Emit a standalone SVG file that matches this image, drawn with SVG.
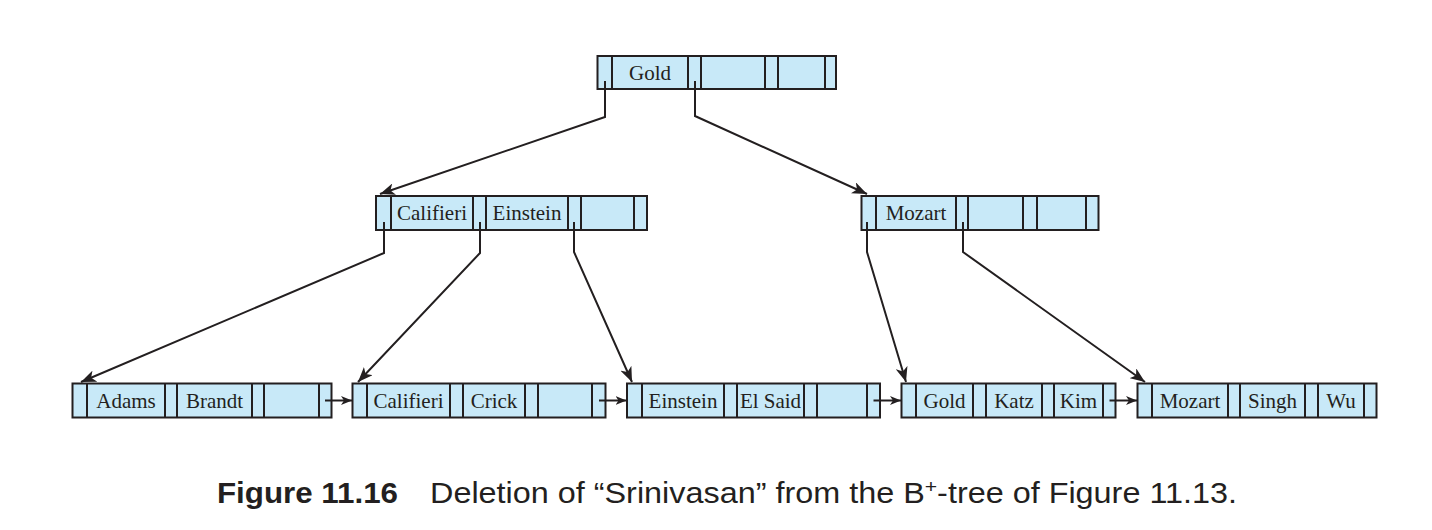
<svg xmlns="http://www.w3.org/2000/svg" width="1432" height="530" viewBox="0 0 1432 530">
<style>
.cell{fill:#c8e9f8;stroke:#231f20;stroke-width:2}
.div{stroke:#231f20;stroke-width:2}
.key{font-family:"Liberation Serif","Times New Roman",serif;font-size:21px;fill:#231f20;text-anchor:middle}
.con{fill:none;stroke:#231f20;stroke-width:2}
.cap{font-family:"Liberation Sans",Arial,sans-serif;font-size:29px;fill:#231f20}
</style>
<defs>
<marker id="ah" markerUnits="userSpaceOnUse" markerWidth="16" markerHeight="12" refX="15" refY="6" orient="auto">
<path d="M0,0 L15,6 L0,12 L4,6 z" fill="#231f20"/>
</marker>
<marker id="ahs" markerUnits="userSpaceOnUse" markerWidth="12" markerHeight="10" refX="11" refY="4.5" orient="auto">
<path d="M0,0 L11,4.5 L0,9 L3,4.5 z" fill="#231f20"/>
</marker>
</defs>
<rect width="1432" height="530" fill="#ffffff"/>

<g id="root">
<rect class="cell" x="597.5" y="56" width="238.5" height="33"/>
<path class="div" d="M612,56V89M688,56V89M701,56V89M765,56V89M778,56V89M825,56V89"/>
<text class="key" x="650" y="79.5">Gold</text>
</g>

<g id="inner-left">
<rect class="cell" x="376" y="196" width="271" height="34"/>
<path class="div" d="M391,196V230M473,196V230M486,196V230M568,196V230M581,196V230M634,196V230"/>
<text class="key" x="432" y="220">Califieri</text>
<text class="key" x="527" y="220">Einstein</text>
</g>

<g id="inner-right">
<rect class="cell" x="861.5" y="196" width="237" height="34"/>
<path class="div" d="M876,196V230M956,196V230M968,196V230M1023,196V230M1037,196V230M1086,196V230"/>
<text class="key" x="916" y="220">Mozart</text>
</g>

<g id="leaf-1">
<rect class="cell" x="72.5" y="383.5" width="259" height="34"/>
<path class="div" d="M87,383.5V417.5M165,383.5V417.5M177,383.5V417.5M252,383.5V417.5M264,383.5V417.5M319,383.5V417.5"/>
<text class="key" x="126" y="408">Adams</text>
<text class="key" x="214.5" y="408">Brandt</text>
</g>

<g id="leaf-2">
<rect class="cell" x="352.5" y="383.5" width="253" height="34"/>
<path class="div" d="M367,383.5V417.5M450,383.5V417.5M463,383.5V417.5M525,383.5V417.5M538,383.5V417.5M592,383.5V417.5"/>
<text class="key" x="408.5" y="408">Califieri</text>
<text class="key" x="494" y="408">Crick</text>
</g>

<g id="leaf-3">
<rect class="cell" x="627" y="383.5" width="253" height="34"/>
<path class="div" d="M642,383.5V417.5M724,383.5V417.5M737,383.5V417.5M804,383.5V417.5M817,383.5V417.5M867,383.5V417.5"/>
<text class="key" x="683" y="408">Einstein</text>
<text class="key" x="770.5" y="408">El Said</text>
</g>

<g id="leaf-4">
<rect class="cell" x="901.5" y="383.5" width="214" height="34"/>
<path class="div" d="M916,383.5V417.5M973,383.5V417.5M986,383.5V417.5M1042,383.5V417.5M1054,383.5V417.5M1103,383.5V417.5"/>
<text class="key" x="944.5" y="408">Gold</text>
<text class="key" x="1014" y="408">Katz</text>
<text class="key" x="1078.5" y="408">Kim</text>
</g>

<g id="leaf-5">
<rect class="cell" x="1137.5" y="383.5" width="239" height="34"/>
<path class="div" d="M1152,383.5V417.5M1228,383.5V417.5M1240,383.5V417.5M1305,383.5V417.5M1318,383.5V417.5M1364,383.5V417.5"/>
<text class="key" x="1190" y="408">Mozart</text>
<text class="key" x="1272.5" y="408">Singh</text>
<text class="key" x="1341" y="408">Wu</text>
</g>

<g id="connectors">
<path class="con" marker-end="url(#ah)" d="M605,81V117L380,194"/>
<path class="con" marker-end="url(#ah)" d="M695,81V116L867,194"/>
<path class="con" marker-end="url(#ah)" d="M384,222V253L81,382"/>
<path class="con" marker-end="url(#ah)" d="M480,222V253L358,382"/>
<path class="con" marker-end="url(#ah)" d="M574,222V252L632,382"/>
<path class="con" marker-end="url(#ah)" d="M867,222V252L906,382"/>
<path class="con" marker-end="url(#ah)" d="M963,222V252L1145,382"/>
<path class="con" marker-end="url(#ahs)" d="M325,400.5H352"/>
<path class="con" marker-end="url(#ahs)" d="M599,400.5H626.5"/>
<path class="con" marker-end="url(#ahs)" d="M873.5,400.5H901"/>
<path class="con" marker-end="url(#ahs)" d="M1109.5,400.5H1137"/>
</g>

<g id="caption">
<text class="cap" x="217" y="503" font-weight="bold" textLength="181" lengthAdjust="spacingAndGlyphs">Figure 11.16</text>
<text class="cap" x="430" y="503" textLength="807" lengthAdjust="spacingAndGlyphs">Deletion of “Srinivasan” from the B<tspan font-size="19" dy="-10">+</tspan><tspan dy="10">-tree of Figure 11.13.</tspan></text>
</g>
</svg>
